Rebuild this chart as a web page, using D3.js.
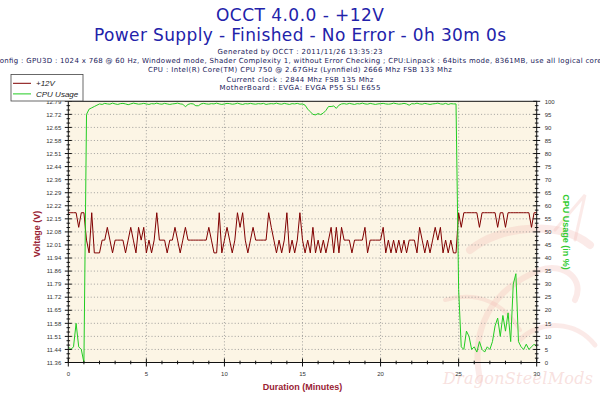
<!DOCTYPE html>
<html>
<head>
<meta charset="utf-8">
<script src="https://d3js.org/d3.v7.min.js"></script>
<style>
body { margin: 0; background: #fff; }
text { font-family: "Liberation Sans", Arial, sans-serif; }
.info { font-family: "DejaVu Sans", sans-serif; font-size: 7px; fill: #202058; }
.tick { font-size: 6px; fill: #333; }
</style>
</head>
<body>
<svg id="chart" width="600" height="400"></svg>
<script>
// ---- data (one sample every 10 s) ----
var sampleSeconds = 10
var xTicks = [0, 5, 10, 15, 20, 25, 30]
var voltLabels = ["11.36","11.44","11.51","11.58","11.65","11.72","11.79","11.86","11.94","12.01",
                  "12.08","12.15","12.22","12.29","12.36","12.44","12.51","12.58","12.65","12.72","12.79"]
var cpuTicks = [0,5,10,15,20,25,30,35,40,45,50,55,60,65,70,75,80,85,90,95,100]

var voltage = [
  12.18,12.18,12.18,12.18,12.10,12.18,12.18,12.03,11.96,12.18,
  11.96,11.96,11.96,12.03,12.03,12.10,12.03,11.96,12.03,12.03,
  12.03,12.03,11.96,12.03,12.10,12.03,11.96,12.10,12.03,12.10,
  11.96,12.03,11.96,12.03,12.18,12.03,12.03,12.03,11.96,12.03,
  12.03,12.10,12.03,11.96,12.03,12.10,12.03,12.03,12.03,12.03,
  12.03,12.03,12.03,12.03,12.10,12.03,11.96,11.96,12.18,11.96,
  12.03,12.10,12.03,11.96,12.03,12.18,12.10,12.18,12.03,11.96,
  12.03,12.10,12.03,12.03,12.03,12.03,12.03,12.18,12.10,12.03,
  11.96,12.03,11.96,12.03,12.18,11.96,12.03,11.96,12.03,12.18,
  12.03,11.96,12.03,11.96,12.10,11.96,12.03,11.96,12.03,11.96,
  12.03,12.10,11.96,12.10,11.96,12.10,12.03,12.03,12.03,11.96,
  12.03,12.03,12.03,12.03,12.10,11.96,12.03,12.03,12.03,12.03,
  12.03,12.10,11.96,12.03,11.96,12.03,11.96,12.03,11.96,12.03,
  11.96,12.03,12.03,12.03,11.96,12.10,12.03,11.96,12.03,11.96,
  12.03,12.10,12.03,12.10,11.96,12.03,11.96,12.03,11.96,11.96,
  12.18,12.10,12.18,12.18,12.18,12.18,12.18,12.18,12.10,12.18,
  12.18,12.18,12.18,12.18,12.18,12.10,12.18,12.18,12.10,12.18,
  12.18,12.18,12.18,12.18,12.18,12.18,12.18,12.18,12.10,12.18,
  12.18
]

var cpu = [
  6,5,6,15,6,5,0,95,97,97.5,
  98,98.5,99,98.8,99.2,99,98.9,99.3,99,98.8,
  99.1,99.2,99,98.7,99,99.3,99.1,98.9,99,99.2,
  99,98.8,99.1,99,99.3,99,98.9,99.2,99,98.8,
  99,99.1,99.3,99,98.9,97.9,98.8,99.1,99,98.3,
  98.3,99,99.2,99,98.9,99.1,99,99.3,99,98.8,
  99,99.2,99.1,98.9,99,99.3,99,98.8,99.1,99,
  99.2,99,98.9,99.1,99,99.2,98.8,99,99.1,99,
  99.3,99,98.9,99.2,99,98.8,99.1,99,99.2,98.9,
  99,98.5,97,96,95,94.8,95.3,94.9,95.5,96.5,
  98,98,98.2,97.3,98.5,99,99.1,98.9,99.2,99,
  98.8,99.1,99,99.3,99,98.9,99.2,99,98.8,99,
  99.1,99.2,99,98.9,99,99.3,99.1,98.9,99,99.2,
  99,98.5,99.1,99,99.3,99,98.9,99.2,99,98.8,
  99,99.1,99.3,99,98.9,99.2,98.8,99.1,99,99,
  28,6,5,12,10,5,6,4,8,5,
  4,6,5,8,14,17,10,18,12,19,
  8,30,34,8,6,5,7,5,6,7,
  6
]

// ---- layout ----
var svg = d3.select("#chart")
var plot = {left: 68.3, right: 536.7, top: 101.3, bottom: 362.5}
var x = d3.scaleLinear().domain([0, 30]).range([plot.left, plot.right])
var yV = d3.scaleLinear().domain([11.36, 12.79]).range([plot.bottom, plot.top])
var yC = d3.scaleLinear().domain([0, 100]).range([plot.bottom, plot.top])
var voltTicks = voltLabels.map(function(d, i) { return 11.36 + i * (12.79 - 11.36) / (voltLabels.length - 1) })
var minutes = function(i) { return i * sampleSeconds / 60 }

// titles
svg.append("text").attr("x", 300).attr("y", 21).attr("text-anchor", "middle")
  .attr("textLength", 168).style("font-family", "DejaVu Sans").style("font-size", "17px")
  .style("fill", "#2222aa").text("OCCT 4.0.0 - +12V")
svg.append("text").attr("x", 300).attr("y", 41).attr("text-anchor", "middle")
  .attr("textLength", 412).style("font-family", "DejaVu Sans").style("font-size", "17px")
  .style("fill", "#2222aa").text("Power Supply - Finished - No Error - 0h 30m 0s")

var infoLines = [
  ["Generated by OCCT : 2011/11/26 13:35:23", 54, 165],
  ["Config : GPU3D : 1024 x 768 @ 60 Hz, Windowed mode, Shader Complexity 1, without Error Checking ; CPU:Linpack : 64bits mode, 8361MB, use all logical cores", 63.3, 611],
  ["CPU : Intel(R) Core(TM) CPU 750 @ 2.67GHz (Lynnfield) 2666 Mhz FSB 133 Mhz", 72.3, 304],
  ["Current clock : 2844 Mhz FSB 135 Mhz", 81.7, 147],
  ["MotherBoard : EVGA: EVGA P55 SLI E655", 90.3, 161]
]
infoLines.forEach(function(l) {
  svg.append("text").attr("class", "info").attr("x", 300).attr("y", l[1])
    .attr("text-anchor", "middle").attr("textLength", l[2]).text(l[0])
})

// plot background
svg.append("rect").attr("x", plot.left).attr("y", plot.top)
  .attr("width", plot.right - plot.left).attr("height", plot.bottom - plot.top)
  .style("fill", "#fcf5e5")

// watermark dragon (faint)
var wm = svg.append("g").style("fill", "none").style("stroke", "#f2b8b2").style("stroke-opacity", 0.3)
  .style("stroke-linecap", "round")
wm.append("path").attr("d", "M470,250 C500,225 560,220 590,245").style("stroke-width", 8)
wm.append("path").attr("d", "M480,380 C470,330 490,290 540,270 C565,262 585,280 575,300").style("stroke-width", 6)
wm.append("path").attr("d", "M520,340 C540,320 575,320 595,345").style("stroke-width", 5)
wm.append("path").attr("d", "M445,300 C480,290 505,305 520,330").style("stroke-width", 4)
wm.append("path").attr("d", "M555,230 L585,195 L575,240").style("stroke-width", 3)
svg.append("text").attr("x", 443).attr("y", 384).attr("textLength", 150)
  .style("font-family", "DejaVu Serif").style("font-style", "italic").style("font-size", "16px")
  .style("fill", "#f2c8c4").style("fill-opacity", 0.55).text("DragonSteelMods")

// grid
svg.append("g").selectAll("line").data(voltTicks.slice(1, -1)).join("line")
  .attr("x1", plot.left).attr("x2", plot.right)
  .attr("y1", function(d) { return yV(d) }).attr("y2", function(d) { return yV(d) })
  .style("stroke", "#8c8c8c").style("stroke-width", 0.8).style("stroke-dasharray", "1,2.2")
svg.append("g").selectAll("line").data(xTicks.slice(1, -1)).join("line")
  .attr("y1", plot.top).attr("y2", plot.bottom)
  .attr("x1", function(d) { return x(d) }).attr("x2", function(d) { return x(d) })
  .style("stroke", "#8c8c8c").style("stroke-width", 0.8).style("stroke-dasharray", "1,2.2")

// series
var voltLine = d3.line().x(function(d, i) { return x(minutes(i)) }).y(function(d) { return yV(d) })
var cpuLine = d3.line().x(function(d, i) { return x(minutes(i)) }).y(function(d) { return yC(d) })
svg.append("path").datum(voltage).attr("d", voltLine)
  .style("fill", "none").style("stroke", "#800000").style("stroke-width", 1)
svg.append("path").datum(cpu).attr("d", cpuLine)
  .style("fill", "none").style("stroke", "#22cc22").style("stroke-width", 1)

// frame
svg.append("rect").attr("x", plot.left).attr("y", plot.top)
  .attr("width", plot.right - plot.left).attr("height", plot.bottom - plot.top)
  .style("fill", "none").style("stroke", "#111").style("stroke-width", 1)

// ticks (cross the axis lines, like the original)
function crossTicks(values, pos, fixed, len, vertical) {
  svg.append("g").selectAll("line").data(values).join("line")
    .attr(vertical ? "x1" : "y1", fixed - len).attr(vertical ? "x2" : "y2", fixed + len)
    .attr(vertical ? "y1" : "x1", function(d) { return pos(d) })
    .attr(vertical ? "y2" : "x2", function(d) { return pos(d) })
    .style("stroke", "#111").style("stroke-width", 1)
}
var voltMinor = []
voltTicks.slice(0, -1).forEach(function(d, i) {
  var step = voltTicks[i + 1] - d
  voltMinor.push(d + step / 3, d + 2 * step / 3)
})
var cpuMinor = []
cpuTicks.slice(0, -1).forEach(function(d) { cpuMinor.push(d + 5 / 3, d + 10 / 3) })
crossTicks(voltTicks, yV, plot.left, 3.5, true)
crossTicks(voltMinor, yV, plot.left, 1.8, true)
crossTicks(cpuTicks, yC, plot.right, 3.5, true)
crossTicks(cpuMinor, yC, plot.right, 1.8, true)
crossTicks(xTicks, x, plot.bottom, 4, false)
crossTicks(d3.range(0, 31).filter(function(d) { return d % 5 }), x, plot.bottom, 1.8, false)

// tick labels
svg.append("g").selectAll("text").data(voltTicks).join("text").attr("class", "tick")
  .attr("x", plot.left - 7).attr("y", function(d) { return yV(d) + 2.2 })
  .attr("text-anchor", "end").text(function(d, i) { return voltLabels[i] })
svg.append("g").selectAll("text").data(cpuTicks).join("text").attr("class", "tick")
  .attr("x", plot.right + 8).attr("y", function(d) { return yC(d) + 2.2 })
  .text(function(d) { return d })
svg.append("g").selectAll("text").data(xTicks).join("text").attr("class", "tick")
  .attr("x", function(d) { return x(d) }).attr("y", 375.7)
  .attr("text-anchor", "middle").text(function(d) { return d })

// axis titles
svg.append("text").attr("x", 302.5).attr("y", 390).attr("text-anchor", "middle")
  .style("font-size", "9px").style("font-weight", "bold").style("fill", "#992233")
  .text("Duration (Minutes)")
svg.append("text").attr("transform", "translate(40,234) rotate(-90)").attr("text-anchor", "middle")
  .style("font-size", "9px").style("font-weight", "bold").style("fill", "#992233")
  .text("Voltage (V)")
svg.append("text").attr("transform", "translate(563,232) rotate(90)").attr("text-anchor", "middle")
  .style("font-size", "9px").style("font-weight", "bold").style("fill", "#33cc33")
  .text("CPU Usage (in %)")

// legend
var legend = svg.append("g")
legend.append("rect").attr("x", 11).attr("y", 74.5).attr("width", 72).attr("height", 26.5)
  .style("fill", "#fff").style("stroke", "#444").style("stroke-width", 0.8)
var legendItems = [["+12V", "#800000"], ["CPU Usage", "#22cc22"]]
legendItems.forEach(function(d, i) {
  var cy = 83.3 + i * 10.6
  legend.append("line").attr("x1", 13).attr("x2", 31).attr("y1", cy).attr("y2", cy)
    .style("stroke", d[1]).style("stroke-width", 1)
  legend.append("text").attr("x", 36).attr("y", cy + 2.8)
    .style("font-size", "8px").style("font-style", "italic").style("fill", "#222").text(d[0])
})
</script>
</body>
</html>
